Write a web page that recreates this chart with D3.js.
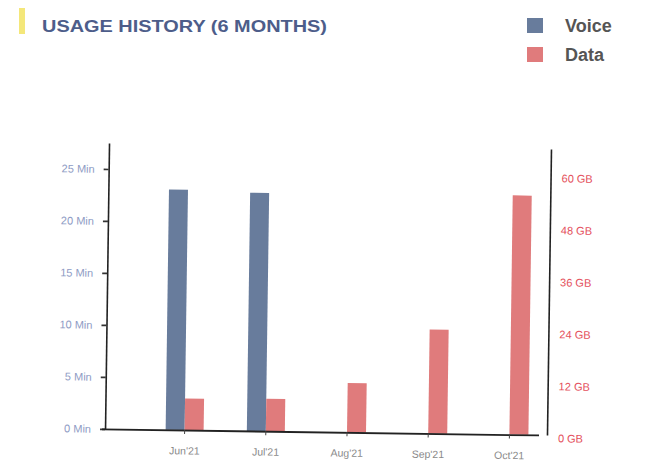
<!DOCTYPE html>
<html>
<head>
<meta charset="utf-8">
<script src="https://cdn.jsdelivr.net/npm/d3@7"></script>
<style>
  html, body { margin: 0; padding: 0; background: #ffffff; }
  svg { display: block; font-family: "Liberation Sans", Arial, sans-serif; }
</style>
</head>
<body>
<svg id="chart" width="658" height="466"></svg>
<script>
const months = ["Jun'21", "Jul'21", "Aug'21", "Sep'21", "Oct'21"];
const voiceMin = [23.1, 22.9, 0, 0, 0];
const dataGB = [7.3, 7.5, 11.4, 24.0, 55.2];
const voiceTicks = [0, 5, 10, 15, 20, 25];
const dataTicks = [0, 12, 24, 36, 48, 60];
const titleText = "USAGE HISTORY (6 MONTHS)";
const legendItems = ["Voice", "Data"];

const colors = { Voice: "#687c9c", Data: "#e07b7c" };

const svg = d3.select("#chart");

// Header
svg.append("rect").attr("x", 19).attr("y", 8).attr("width", 6).attr("height", 26).attr("fill", "#f4e77a");
svg.append("text").attr("x", 42).attr("y", 32)
  .attr("font-size", 16.5).attr("font-weight", "bold").attr("fill", "#4d5d8a")
  .attr("textLength", 285).attr("lengthAdjust", "spacingAndGlyphs")
  .text(titleText);

const legend = svg.append("g");
legendItems.forEach((name, i) => {
  const g = legend.append("g").attr("transform", `translate(527, ${18 + i * 29})`);
  g.append("rect").attr("width", 16).attr("height", 15).attr("fill", colors[name]);
  g.append("text").attr("x", 38).attr("y", 14).attr("font-size", 18).attr("font-weight", "bold")
    .attr("fill", "#555").text(name);
});

// Chart body (slightly rotated like the photographed print)
const plot = svg.append("g").attr("transform", "rotate(0.8, 328, 290)");

const plotLeft = 107, plotRight = 549, plotBase = 432, plotTop = 146;

const x = d3.scaleBand().domain(months).range([146, 552]).paddingInner(0).paddingOuter(0);
const yV = d3.scaleLinear().domain([0, 27.5]).range([plotBase, plotTop]);
const yD = d3.scaleLinear().domain([0, 66]).range([plotBase, plotTop]);
const bw = 19;

// Bars
plot.selectAll("rect.voice").data(months).join("rect").attr("class", "voice")
  .attr("x", d => x(d) + x.bandwidth() / 2 - bw)
  .attr("width", bw)
  .attr("y", (d, i) => yV(voiceMin[i]))
  .attr("height", (d, i) => plotBase - yV(voiceMin[i]))
  .attr("fill", colors.Voice);

plot.selectAll("rect.data").data(months).join("rect").attr("class", "data")
  .attr("x", d => x(d) + x.bandwidth() / 2)
  .attr("width", bw)
  .attr("y", (d, i) => yD(dataGB[i]))
  .attr("height", (d, i) => plotBase - yD(dataGB[i]))
  .attr("fill", colors.Data);

// Left axis
const ax = plot.append("g").attr("transform", `translate(${plotLeft},0)`)
  .call(d3.axisLeft(yV).tickValues(voiceTicks).tickFormat(d => d + " Min").tickSize(5).tickSizeOuter(0).tickPadding(9));
ax.select(".domain").attr("stroke", "#222").attr("stroke-width", 1.6);
ax.selectAll(".tick line").attr("stroke", "#333").attr("stroke-width", 1.6);
ax.selectAll(".tick text").attr("fill", "#8e9bc4").attr("font-size", 11).attr("font-family", "Liberation Sans, Arial, sans-serif");

// Right axis
const ar = plot.append("g").attr("transform", `translate(${plotRight},0)`)
  .call(d3.axisRight(yD).tickValues(dataTicks).tickFormat(d => d + " GB").tickSize(0).tickSizeOuter(0).tickPadding(11));
ar.select(".domain").attr("stroke", "#222").attr("stroke-width", 1.6);
ar.selectAll(".tick text").attr("fill", "#e4505c").attr("font-size", 11).attr("font-family", "Liberation Sans, Arial, sans-serif")
  .attr("dy", "0.6em");

// Bottom axis
const ab = plot.append("g").attr("transform", `translate(0,${plotBase})`)
  .call(d3.axisBottom(x).tickSize(4).tickSizeOuter(0).tickPadding(13));
ab.select(".domain").attr("d", `M${plotLeft - 3},0.5H${plotRight - 8}`).attr("stroke", "#222").attr("stroke-width", 1.8);
ab.selectAll(".tick line").attr("stroke", "#444");
ab.selectAll(".tick text").attr("fill", "#8a8a8a").attr("font-size", 10.5).attr("font-family", "Liberation Sans, Arial, sans-serif");
</script>
</body>
</html>
